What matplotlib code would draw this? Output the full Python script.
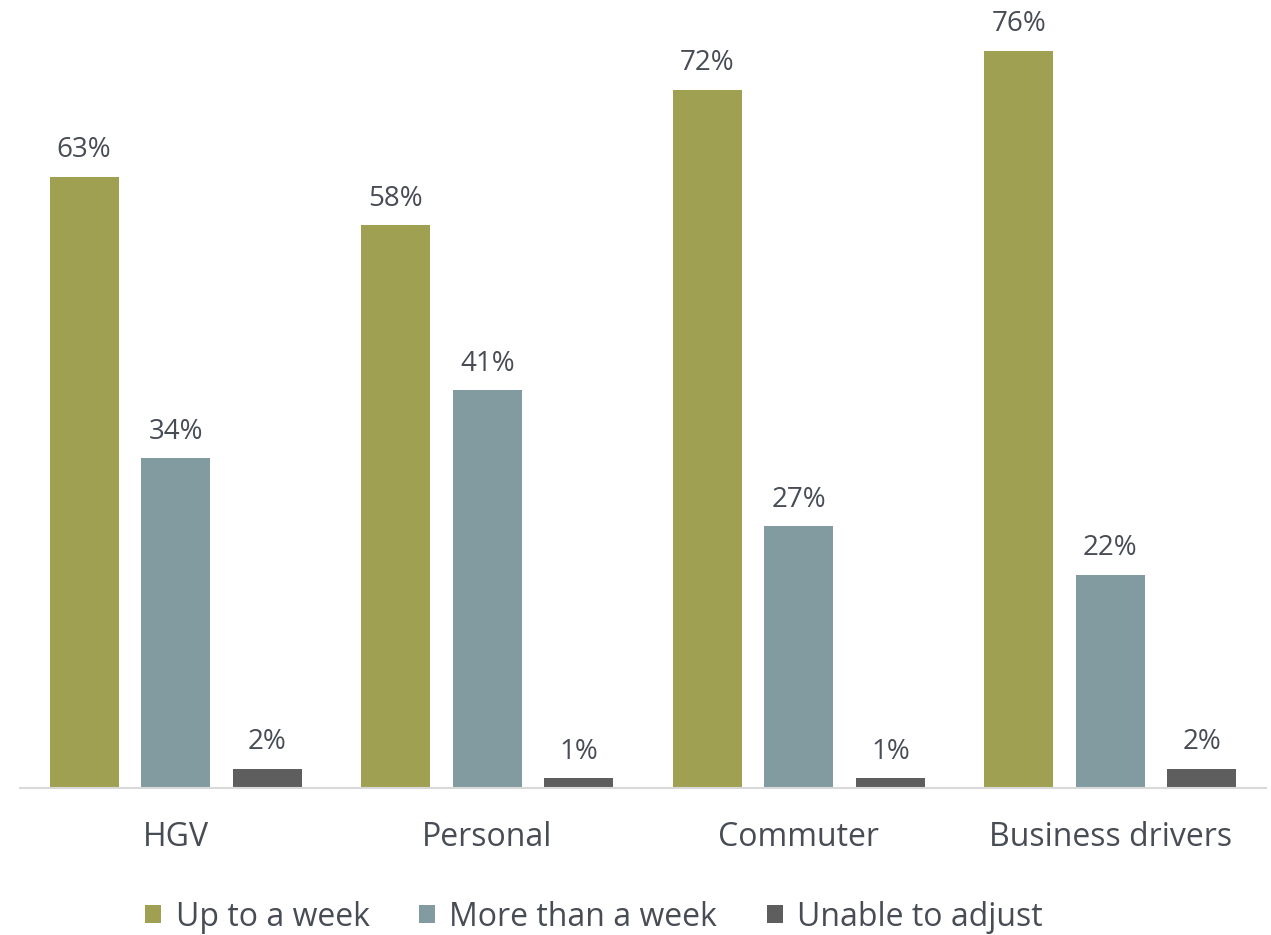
import matplotlib
matplotlib.use("Agg")
import matplotlib.pyplot as plt
import numpy as np

categories = ["HGV", "Personal", "Commuter", "Business drivers"]
series_names = ["Up to a week", "More than a week", "Unable to adjust"]
up_to_week = [63, 58, 72, 76]
more_than_week = [34, 41, 27, 22]
unable = [2, 1, 1, 2]
colors = ["#A0A052", "#819BA0", "#5E5E5E"]
text_color = "#474C55"

plt.rcParams['font.family'] = ['Open Sans', 'DejaVu Sans']

fig = plt.figure(figsize=(12.71, 9.35), dpi=100)
W, H = 1271, 935
left, right = 20, 1266
base, top = 788, 12
ax = fig.add_axes([left / W, (H - base) / H, (right - left) / W, (base - top) / H])

x = np.arange(len(categories))
width = 0.222
step = 0.294
series = [up_to_week, more_than_week, unable]
for i, (vals, col, name) in enumerate(zip(series, colors, series_names)):
    bars = ax.bar(x + (i - 1) * step, vals, width, color=col, label=name)
    ax.bar_label(bars, labels=[f"{v}%" for v in vals], padding=9,
                 fontsize=20, color=text_color)

ax.set_xlim(-0.5, 3.5)
ax.set_ylim(0, 80)
ax.set_yticks([])
ax.set_xticks(x)
ax.set_xticklabels(categories, fontsize=23, color=text_color)
ax.tick_params(axis='x', length=0, pad=24)
for s in ["top", "right", "left"]:
    ax.spines[s].set_visible(False)
ax.spines["bottom"].set_color("#D9D9D9")
ax.spines["bottom"].set_linewidth(1.5)

leg = fig.legend(loc="center", bbox_to_anchor=(594 / W, (H - 917) / H), ncol=3,
                 frameon=False, fontsize=23, handlelength=0.5, handleheight=0.5,
                 handletextpad=0.45, columnspacing=1.55, labelcolor=text_color,
                 borderpad=0)

fig.savefig("out.png", dpi=100)
